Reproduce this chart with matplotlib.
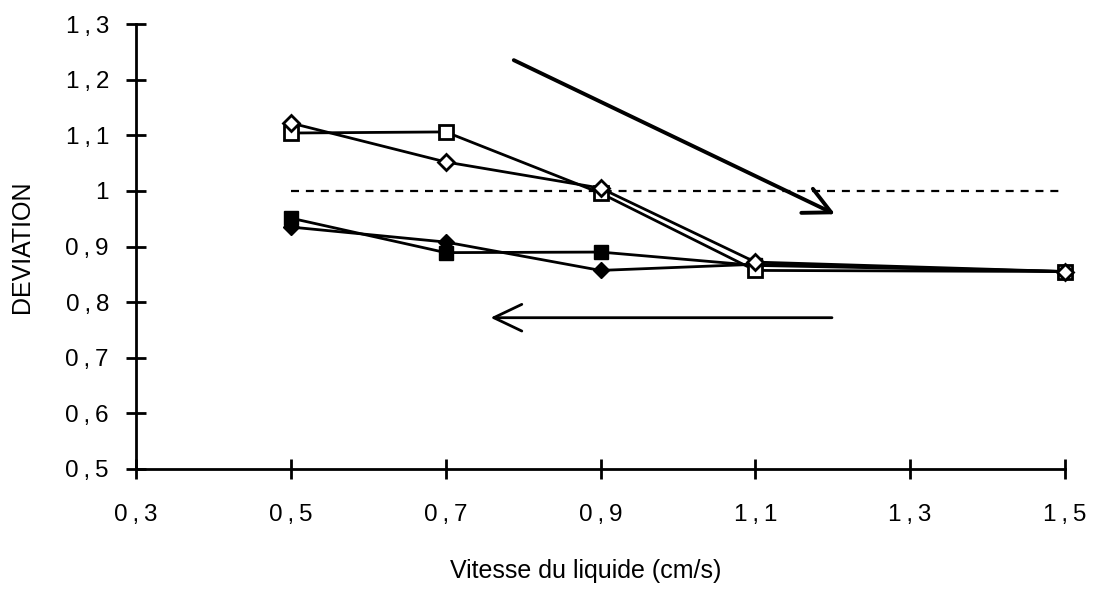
import matplotlib
matplotlib.use("Agg")
import matplotlib.pyplot as plt

plt.rcParams['font.family'] = ['Liberation Sans', 'DejaVu Sans']

# ---- data ----
vitesse = [0.5, 0.7, 0.9, 1.1, 1.5]
open_square = [1.104, 1.106, 0.996, 0.857, 0.855]
open_diamond = [1.122, 1.052, 1.005, 0.872, 0.855]
filled_square = [0.951, 0.889, 0.890, 0.866, 0.855]
filled_diamond = [0.935, 0.908, 0.857, 0.868, 0.855]

reference_level = 1.0
reference_span = [0.5, 1.5]

# arrows (start, end) in data coordinates
arrow_up_start = (0.788, 1.235)
arrow_up_end = (1.203, 0.958)
arrow_down_start = (1.199, 0.772)
arrow_down_end = (0.758, 0.772)

xticks = [0.3, 0.5, 0.7, 0.9, 1.1, 1.3, 1.5]
xticklabels = ["0\u2009,\u20093", "0\u2009,\u20095", "0\u2009,\u20097", "0\u2009,\u20099",
               "1\u2009,\u20091", "1\u2009,\u20093", "1\u2009,\u20095"]
yticks = [0.5, 0.6, 0.7, 0.8, 0.9, 1.0, 1.1, 1.2, 1.3]
yticklabels = ["0\u2009,\u20095", "0\u2009,\u20096", "0\u2009,\u20097", "0\u2009,\u20098",
               "0\u2009,\u20099", "1", "1\u2009,\u20091", "1\u2009,\u20092", "1\u2009,\u20093"]

# ---- figure ----
W, H = 1094, 591
fig = plt.figure(figsize=(W / 100, H / 100), dpi=100)
left, right, bottom, top = 136, 1065, 469, 24
ax = fig.add_axes([left / W, 1 - bottom / H, (right - left) / W, (bottom - top) / H])

ax.set_xlim(0.3, 1.5)
ax.set_ylim(0.5, 1.3)

lw = 2.0
ax.plot(reference_span, [reference_level] * 2, color='black', lw=1.6,
        linestyle=(0, (3.6, 3.1)), zorder=1, clip_on=False)

ax.plot(vitesse, filled_square, color='black', lw=lw, marker='s', ms=10.5,
        mfc='black', mec='black', zorder=2, clip_on=False)
ax.plot(vitesse, filled_diamond, color='black', lw=lw, marker='D', ms=8.5,
        mfc='black', mec='black', zorder=2, clip_on=False)
ax.plot(vitesse, open_square, color='black', lw=lw, marker='s', ms=10.5,
        mfc='white', mec='black', mew=2.0, zorder=3, clip_on=False)
ax.plot(vitesse, open_diamond, color='black', lw=lw, marker='D', ms=8.5,
        mfc='white', mec='black', mew=2.0, zorder=4, clip_on=False)

ax.annotate('', xy=arrow_up_end, xytext=arrow_up_start,
            arrowprops=dict(arrowstyle='->,head_length=0.4,head_width=0.2',
                            lw=2.8, color='black', mutation_scale=48,
                            shrinkA=0, shrinkB=0))
ax.annotate('', xy=arrow_down_end, xytext=arrow_down_start,
            arrowprops=dict(arrowstyle='->,head_length=0.42,head_width=0.2',
                            lw=2.0, color='black', mutation_scale=48,
                            shrinkA=0, shrinkB=0))

# spines / ticks
for s in ['top', 'right']:
    ax.spines[s].set_visible(False)
for s in ['left', 'bottom']:
    ax.spines[s].set_linewidth(2.0)

ax.set_xticks(xticks)
ax.set_xticklabels(xticklabels)
ax.set_yticks(yticks)
ax.set_yticklabels(yticklabels)
ax.tick_params(axis='both', direction='inout', length=15, width=2.0, labelsize=17.5)
ax.tick_params(axis='x', pad=18)
ax.tick_params(axis='y', pad=12)

ax.set_xlabel('Vitesse du liquide (cm/s)', fontsize=18, va='center')
ax.xaxis.set_label_coords((585.5 - left) / (right - left), -(571 - bottom) / (bottom - top))
ax.set_ylabel('DEVIATION', fontsize=18, va='center')
ax.yaxis.set_label_coords(-(left - 22.5) / (right - left), 0.5)

fig.savefig('out.png', dpi=100)
